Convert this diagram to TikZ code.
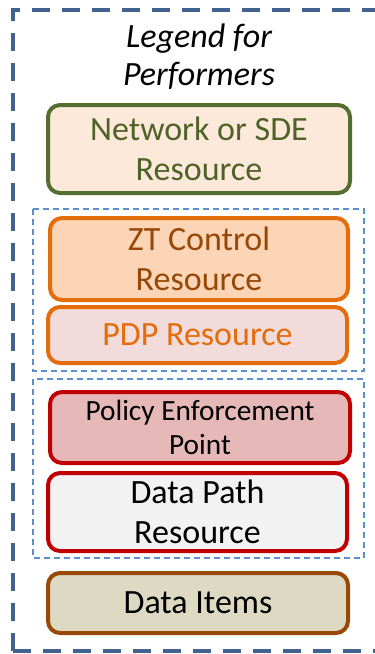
\documentclass[tikz,border=0pt]{standalone}
\usepackage{fontspec}
\setmainfont{Carlito}
\usetikzlibrary{positioning}

\definecolor{outerblue}{RGB}{65,97,143}
\definecolor{grpblue}{RGB}{91,143,208}
\definecolor{netline}{RGB}{84,110,48}
\definecolor{netfill}{RGB}{252,233,218}
\definecolor{nettext}{RGB}{79,98,40}
\definecolor{ztline}{RGB}{228,108,10}
\definecolor{ztfill}{RGB}{251,213,181}
\definecolor{zttext}{RGB}{151,71,6}
\definecolor{pdpfill}{RGB}{242,220,219}
\definecolor{pepline}{RGB}{192,0,0}
\definecolor{pepfill}{RGB}{230,185,184}
\definecolor{dprfill}{RGB}{242,242,242}
\definecolor{itemline}{RGB}{152,72,7}
\definecolor{itemfill}{RGB}{221,217,195}

\newcommand{\px}{0.75pt}

\tikzset{
  legbox/.style={draw, line width=3pt, rounded corners=9pt, align=center,
    inner sep=0pt, font=\fontsize{25.5}{30}\selectfont},
  grpline/.style={draw=grpblue, line width=1.2pt, dash pattern=on 4.5pt off 3pt},
  outline/.style={draw=outerblue, line width=2.4pt, dash pattern=on 13.5pt off 9pt}
}

\begin{document}
\begin{tikzpicture}[x=\px, y=-\px]
  \clip (0,0) rectangle (375,654);
  \draw[outline] (13,651) -- (13,10) -- (400,10);
  \draw[outline] (13,651) -- (400,651);

  \node[font=\itshape\fontsize{25.5}{28.5}\selectfont, align=center] (title) at (199,57) {Legend for\\Performers};

  % groups
  \draw[grpline] (33,209) rectangle (364,371);
  \draw[grpline] (33,379) rectangle (364,558);

  \node[legbox, draw=netline, fill=netfill, text=nettext,
    minimum width=302*\px, minimum height=88*\px] (net) at (199,149) {Network or SDE\\Resource};
  \node[legbox, draw=ztline, fill=ztfill, text=zttext,
    minimum width=298*\px, minimum height=82*\px] (zt) at (199,259) {ZT Control\\Resource};
  \node[legbox, draw=ztline, fill=pdpfill, text=ztline,
    minimum width=299*\px, minimum height=56*\px] (pdp) at (197.5,335) {PDP Resource};
  \node[legbox, draw=pepline, fill=pepfill, font=\fontsize{22}{25.5}\selectfont,
    minimum width=300*\px, minimum height=71*\px] (pep) at (200,427.5) {Policy Enforcement\\Point};
  \node[legbox, draw=pepline, fill=dprfill,
    minimum width=299*\px, minimum height=78*\px] (dpr) at (197.5,512) {Data Path\\Resource};
  \node[legbox, draw=itemline, fill=itemfill,
    minimum width=300*\px, minimum height=60*\px] (items) at (198,603) {Data Items};
\end{tikzpicture}
\end{document}
